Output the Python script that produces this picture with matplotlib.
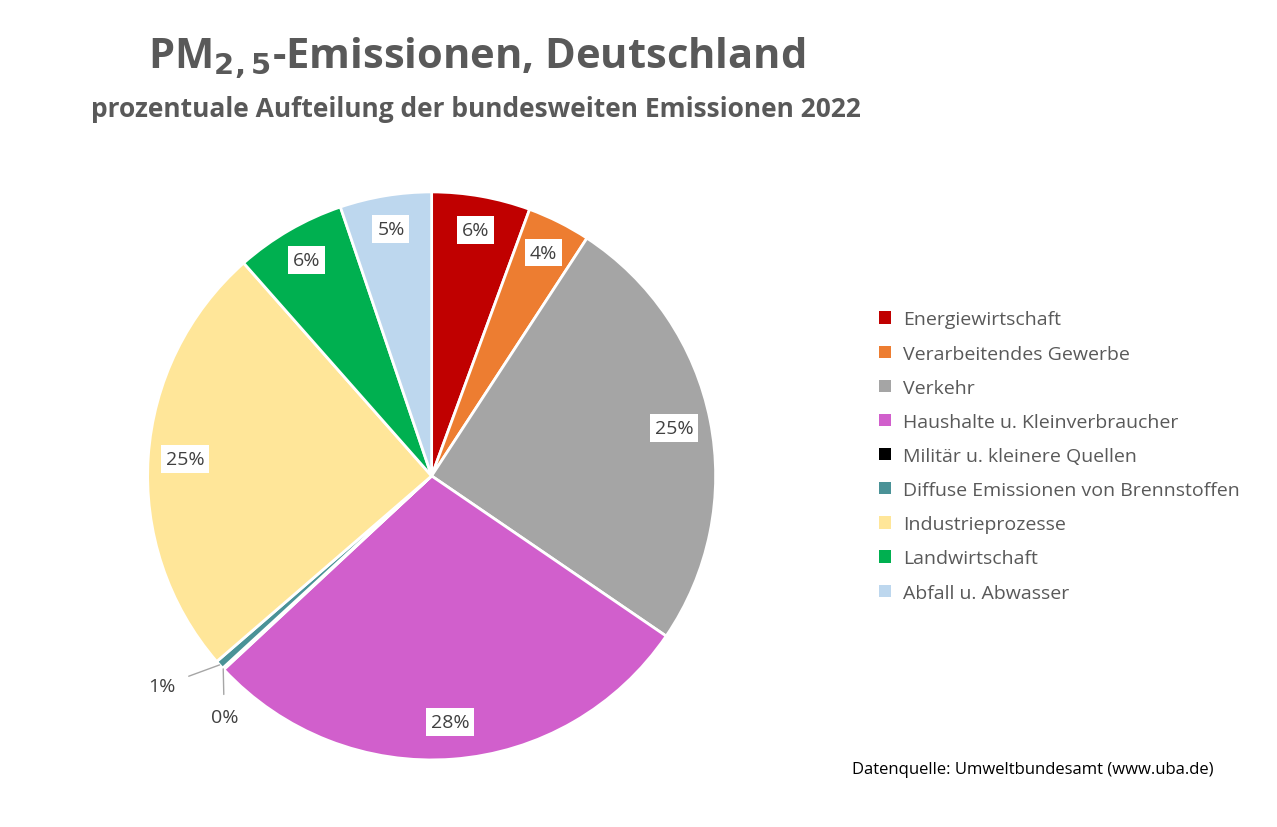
import numpy as np
import matplotlib
matplotlib.use('Agg')
import matplotlib.pyplot as plt

plt.rcParams['font.family'] = ['Open Sans', 'DejaVu Sans']

categories = ['Energiewirtschaft', 'Verarbeitendes Gewerbe', 'Verkehr',
              'Haushalte u. Kleinverbraucher', 'Militär u. kleinere Quellen',
              'Diffuse Emissionen von Brennstoffen', 'Industrieprozesse',
              'Landwirtschaft', 'Abfall u. Abwasser']
values = [5.6, 3.6, 25.3, 28.5, 0.1, 0.5, 24.8, 6.3, 5.2]
labels = ['6%', '4%', '25%', '28%', '0%', '1%', '25%', '6%', '5%']
colors = ['#c00000', '#ed7d31', '#a5a5a5', '#d15fcc', '#000000',
          '#4a9297', '#ffe699', '#00b050', '#bdd7ee']
grey = '#595959'

fig = plt.figure(figsize=(12.77, 8.28), dpi=100)
ax = fig.add_axes([0.338 - 0.2225, 0.424 - 0.343, 0.445, 0.686])

wedges, _ = ax.pie(values, colors=colors, startangle=90, counterclock=False,
                   wedgeprops=dict(edgecolor='white', linewidth=2))
ax.set_aspect('equal')
ax.set_xlim(-1, 1)
ax.set_ylim(-1, 1)

for w, lab, v in zip(wedges, labels, values):
    ang = np.deg2rad((w.theta1 + w.theta2) / 2)
    if v < 1:
        continue
    r = 0.87 if v > 10 else 0.88
    ax.text(r * np.cos(ang), r * np.sin(ang), lab, ha='center', va='center',
            fontsize=14, color='#404040',
            bbox=dict(boxstyle='square,pad=0.25', fc='white', ec='none'))

# small slices with leader lines
small = {4: (-0.73, -0.85), 5: (-0.95, -0.74)}
for i, (tx, ty) in small.items():
    w = wedges[i]
    ang = np.deg2rad((w.theta1 + w.theta2) / 2)
    ex, ey = np.cos(ang), np.sin(ang)
    ax.annotate(labels[i], xy=(ex, ey), xytext=(tx, ty), ha='center', va='center',
                fontsize=14, color='#404040',
                arrowprops=dict(arrowstyle='-', color='#a6a6a6', lw=1,
                                shrinkA=8, shrinkB=0))

handles = [plt.Rectangle((0, 0), 1, 1, fc=c) for c in colors]
fig.legend(handles, categories, loc='upper left', bbox_to_anchor=(0.675, 0.645),
           frameon=False, fontsize=14, labelcolor=grey, handlelength=0.6,
           handleheight=0.6, labelspacing=0.83, handletextpad=0.6)

fig.text(0.373, 0.93, r'PM$_{\mathbf{2,5}}$-Emissionen, Deutschland', ha='center',
         va='center', fontsize=30, fontweight='bold', color=grey)
fig.text(0.373, 0.868, 'prozentuale Aufteilung der bundesweiten Emissionen 2022',
         ha='center', va='center', fontsize=19, fontweight='bold', color=grey)
fig.text(0.95, 0.07, 'Datenquelle: Umweltbundesamt (www.uba.de)', ha='right',
         va='center', fontsize=12, color='black')

plt.savefig('out.png', dpi=100)
